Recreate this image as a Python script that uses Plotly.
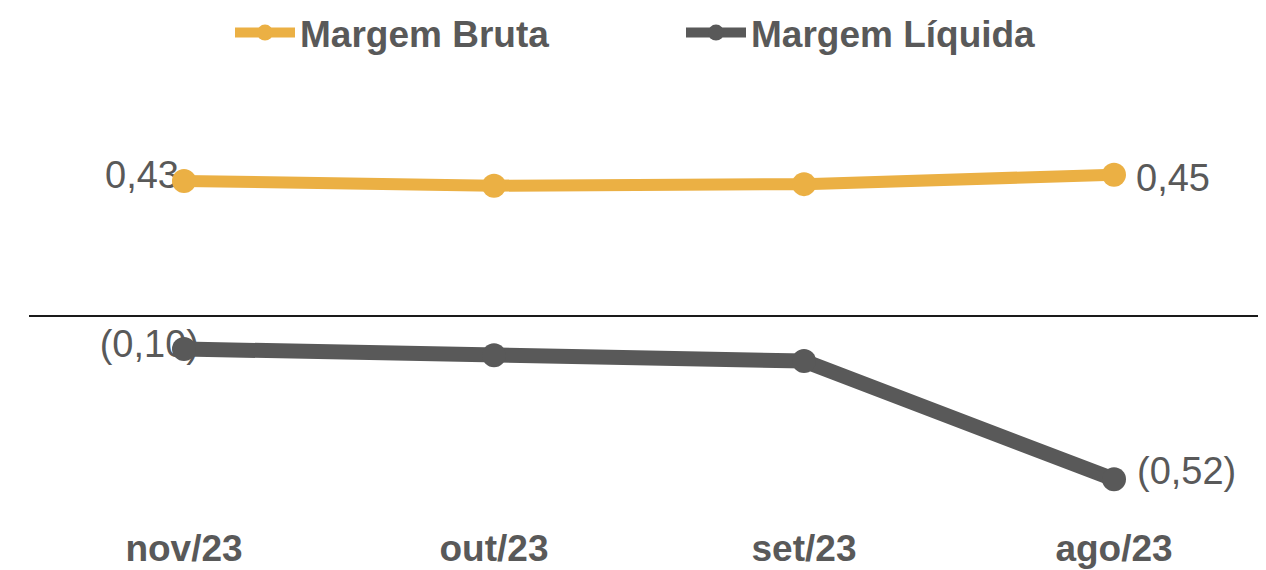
import plotly.graph_objects as go

categories = ["nov/23", "out/23", "set/23", "ago/23"]
margem_bruta = [0.43, 0.415, 0.42, 0.45]
margem_liquida = [-0.105, -0.125, -0.143, -0.52]

def fmt(v):
    s = f"{abs(v):.2f}".replace(".", ",")
    return f"({s})" if v < 0 else s

GOLD = "#EBB044"
GREY = "#595959"
TXT = "#595959"
# page body has an 8px margin, so the figure is slightly smaller
W, H = 1258, 562
ML, MR, MT, MB = 21, 0, 62, 47
PX_PER_CAT = 310.0
x_idx = list(range(len(categories)))
x_range = [-0.5, -0.5 + (W - ML - MR) / PX_PER_CAT]
y_range = [-0.659, 0.7834]
PX_PER_Y = (H - MT - MB) / (y_range[1] - y_range[0])

fig = go.Figure()

# data labels drawn first (markers sit on top of them); (series, index, position, dx px, dy px)
label_specs = [
    (margem_bruta, 0, "middle left", -5, -2),
    (margem_bruta, 3, "middle right", 22, 7),
    (margem_liquida, 0, "middle left", 15, -2),
    (margem_liquida, 3, "middle right", 23, -5),
]
for series, i, pos, dx, dy in label_specs:
    fig.add_trace(go.Scatter(
        x=[x_idx[i] + dx / PX_PER_CAT],
        y=[series[i] - dy / PX_PER_Y], mode="text", text=[fmt(series[i])], textposition=pos,
        textfont=dict(family="Liberation Sans, Arial", size=38, color=TXT),
        showlegend=False, hoverinfo="skip"))

fig.add_trace(go.Scatter(
    x=x_idx, y=margem_bruta, mode="lines+markers", name="Margem Bruta",
    line=dict(color=GOLD, width=12), marker=dict(size=24, color=GOLD)))
fig.add_trace(go.Scatter(
    x=x_idx, y=margem_liquida, mode="lines+markers", name="Margem Líquida",
    line=dict(color=GREY, width=15), marker=dict(size=24, color=GREY)))

fig.update_layout(
    width=W, height=H, margin=dict(l=ML, r=MR, t=MT, b=MB, autoexpand=False),
    paper_bgcolor="white", plot_bgcolor="white",
    font=dict(family="Liberation Sans, Arial", color=TXT),
    legend=dict(orientation="h", x=(222 - ML) / (W - ML - MR), xanchor="left",
                y=1 + (MT - 25) / (H - MT - MB), yanchor="middle",
                font=dict(size=37, color=TXT, weight="bold"), itemwidth=60,
                entrywidth=376, bgcolor="rgba(0,0,0,0)"),
    xaxis=dict(range=x_range, tickvals=x_idx, ticktext=categories,
               showgrid=False, zeroline=False, showline=False, ticks="",
               automargin=False,
               tickfont=dict(size=37, color=TXT, weight="bold")),
    yaxis=dict(range=y_range, showgrid=False, showticklabels=False, automargin=False,
               zeroline=True, zerolinecolor="#1a1a1a", zerolinewidth=2),
    showlegend=True,
)
fig.write_html("out.html")
